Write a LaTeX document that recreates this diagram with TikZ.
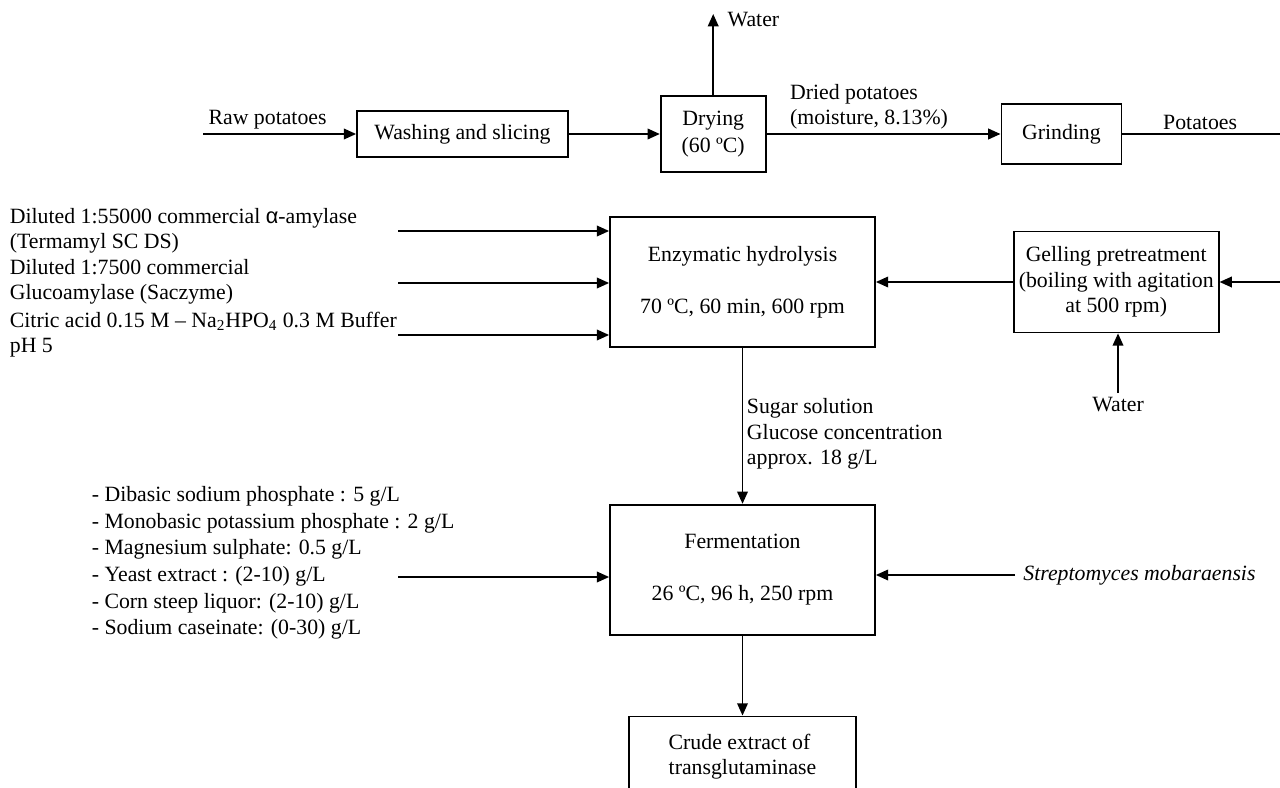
\documentclass[tikz,border=0pt]{standalone}
\usepackage{fontspec}
\setmainfont{Liberation Serif}
\newfontfamily\alphafont{Liberation Sans}
\usetikzlibrary{arrows.meta,positioning}
\tikzset{
  procbox/.style={
    draw, line width=1pt, align=center,
    font=\fontsize{12.4}{14.5}\selectfont,
    inner sep=2pt,
  },
  arrow/.style={-{Triangle[length=7pt,width=6pt]}, line width=1.1pt},
  flow/.style={line width=1.1pt},
  lbl/.style={font=\fontsize{12.4}{14.3}\selectfont, align=left, inner sep=2pt},
}

\begin{document}
\begin{tikzpicture}[x=0.02cm, y=-0.02cm]
  \useasboundingbox (0,0) rectangle (1280,787);

  % potato preparation
  \node[procbox, minimum width=4.22cm, minimum height=0.92cm] (wash) at (462.5,134)
    {Washing and slicing};
  \node[procbox, minimum width=2.1cm, minimum height=1.52cm,
        right=1.82cm of wash] (dry)
    {Drying\\[1pt](60 ºC)};
  \node[procbox, minimum width=2.4cm, minimum height=1.2cm,
        right=4.68cm of dry] (grind)
    {Grinding};

  \coordinate (raw) at (203,134);
  \coordinate (vapour) at (710,14);
  \coordinate (potout) at (1290,134);

  \draw[arrow] (raw) -- node[lbl, above, xshift=-0.24cm] (rawlbl) {Raw potatoes} (wash);
  \draw[arrow] (wash) -- (dry);
  \draw[arrow] (dry.north) -- (dry.north |- vapour)
    node[lbl, right, xshift=0.2cm, yshift=-0.12cm] (vaplbl) {Water};
  \draw[arrow] (dry) -- node[lbl, anchor=south west, pos=0, xshift=0.38cm] (driedlbl)
    {Dried potatoes\\(moisture, 8.13\%)} (grind);
  \draw[flow] (grind) -- node[lbl, above, xshift=-0.12cm] (potlbl) {Potatoes} (potout);

  % hydrolysis
  \node[procbox, minimum width=5.3cm, minimum height=2.6cm] (hydro) at (742.5,282)
    {Enzymatic hydrolysis\\[15pt]70 ºC, 60 min, 600 rpm};
  \node[procbox, minimum width=4.1cm, minimum height=2.02cm,
        right=2.74cm of hydro] (gel)
    {Gelling pretreatment\\(boiling with agitation\\at 500 rpm)};

  \node[lbl, anchor=west] (amylase) at (6,230.5)
    {Diluted 1:55000 commercial {\alphafont α}-amylase\\(Termamyl SC DS)};
  \node[lbl, anchor=west] (gluco) at (6,282)
    {Diluted 1:7500 commercial\\Glucoamylase (Saczyme)};
  \node[lbl, anchor=west] (buffer) at (6,335)
    {Citric acid 0.15 M – Na\textsubscript{2}HPO\textsubscript{4} 0.3 M Buffer\\pH 5};

  \coordinate (a1) at (398,231);
  \coordinate (a2) at (398,283);
  \coordinate (a3) at (398,335);
  \draw[arrow] (a1) -- (a1 -| hydro.west);
  \draw[arrow] (a2) -- (a2 -| hydro.west);
  \draw[arrow] (a3) -- (a3 -| hydro.west);

  \coordinate (g1) at (1290,282);
  \coordinate (w2) at (1118,393);
  \node[lbl, below] (water2) at (w2) {Water};
  \draw[arrow] (g1) -- (g1 -| gel.east);
  \draw[arrow] (w2) -- (w2 |- gel.south);
  \draw[arrow] (gel) -- (hydro);

  % fermentation
  \node[procbox, minimum width=5.3cm, minimum height=2.6cm,
        below=3.12cm of hydro] (ferm)
    {Fermentation\\[15pt]26 ºC, 96 h, 250 rpm};
  \node[procbox, align=left, minimum width=4.54cm, minimum height=1.6cm,
        below=1.6cm of ferm] (crude)
    {Crude extract of\\transglutaminase};

  \draw[arrow] (hydro) -- node[lbl, right, yshift=-0.16cm] (sugar)
    {Sugar solution\\Glucose concentration\\approx. 18 g/L} (ferm);

  \node[lbl, anchor=west, font=\fontsize{12.4}{15.2}\selectfont] (medium) at (88,563)
    {- Dibasic sodium phosphate : 5 g/L\\
     - Monobasic potassium phosphate : 2 g/L\\
     - Magnesium sulphate: 0.5 g/L\\
     - Yeast extract : (2-10) g/L\\
     - Corn steep liquor: (2-10) g/L\\
     - Sodium caseinate: (0-30) g/L};
  \coordinate (m1) at (398,577);
  \draw[arrow] (m1) -- (m1 -| ferm.west);

  \coordinate (s1) at (1015,575);
  \node[lbl, anchor=west] (strep) at (1019.5,575) {\textit{Streptomyces mobaraensis}};
  \draw[arrow] (s1) -- (s1 -| ferm.east);

  \draw[arrow] (ferm) -- (crude);

\end{tikzpicture}
\end{document}
